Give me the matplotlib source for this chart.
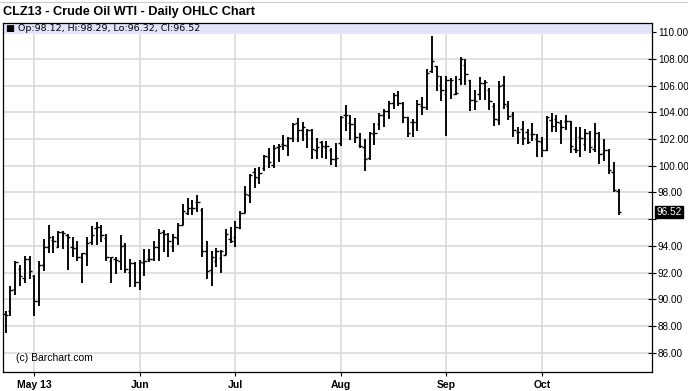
import numpy as np
import pandas as pd
import matplotlib
matplotlib.use('Agg')
import matplotlib.pyplot as plt
from matplotlib.patches import Rectangle
from matplotlib.lines import Line2D

# trading days (NYMEX, US holidays excluded)
dates = pd.bdate_range('2013-04-23', '2013-10-23', freq='C',
                       holidays=['2013-05-27', '2013-07-04', '2013-09-02'])

opens = [88.9, 89.1, 90.8, 92.3, 91.6, 93.05, 91.75, 89.85, 92.55, 93.9,
         94.45, 93.9, 95.05, 94.8, 93.9, 93.85, 93.2, 93.4, 94.3, 95.35,
         95.4, 94.6, 92.9, 93.0, 92.9, 94.1, 92.05, 92.7, 91.3, 92.7,
         93.05, 93.0, 93.9, 95.05, 94.9, 94.0, 94.6, 95.6, 96.47, 96.8,
         97.3, 96.7, 93.6, 92.17, 92.9, 93.1, 93.35, 94.55, 94.7, 95.35,
         96.5, 97.8, 99.55, 99.05, 99.8, 100.67, 100.05, 101.4, 101.6, 101.47,
         102.05, 103.17, 102.7, 102.4, 102.67, 101.2, 101.8, 101.4, 101.17, 100.5,
         101.72, 103.8, 103.2, 103.1, 101.55, 101.37, 100.55, 102.37, 103.12, 103.8,
         104.12, 104.67, 105.3, 104.72, 103.62, 103.3, 103.3, 104.45, 104.4, 107.07,
         107.45, 106.07, 105.4, 106.4, 105.4, 106.5, 107.57, 106.4, 104.9, 105.4,
         106.2, 105.65, 104.5, 103.4, 106.07, 104.5, 103.9, 102.55, 102.75, 102.55,
         102.37, 101.97, 101.8, 101.2, 103.42, 103.5, 103.17, 103.37, 103.37, 101.22,
         102.12, 101.62, 102.42, 101.22, 102.42, 100.92, 101.17, 99.55, 98.12]
highs = [89.1, 91.0, 92.85, 92.55, 93.25, 93.25, 91.8, 92.85, 94.55, 95.55,
         94.75, 95.1, 95.1, 94.9, 94.65, 94.4, 93.5, 94.7, 95.5, 95.8,
         95.6, 94.9, 93.2, 93.15, 94.8, 94.2, 93.05, 92.8, 92.98, 93.73,
         93.8, 94.35, 95.3, 95.2, 94.98, 94.88, 95.73, 97.1, 97.55, 97.4,
         97.8, 96.8, 94.35, 93.6, 93.85, 93.67, 95.25, 95.4, 95.85, 96.6,
         98.47, 99.4, 99.85, 99.9, 100.8, 101.3, 101.55, 101.6, 102.3, 102.17,
         103.17, 103.6, 103.3, 102.75, 102.75, 102.05, 101.87, 101.87, 101.3, 101.72,
         103.72, 104.55, 103.8, 103.55, 102.47, 101.97, 102.55, 103.17, 103.92, 104.22,
         104.87, 105.42, 105.62, 104.8, 103.67, 103.47, 104.95, 105.12, 107.25, 109.75,
         107.5, 106.7, 106.75, 106.57, 106.7, 108.15, 108.0, 106.45, 105.65, 106.65,
         106.4, 105.82, 104.7, 106.32, 106.75, 104.85, 104.0, 102.92, 103.35, 102.72,
         103.2, 102.37, 102.15, 103.75, 103.92, 103.8, 103.42, 103.8, 103.37, 102.92,
         102.92, 102.72, 102.62, 103.17, 102.55, 101.97, 101.22, 100.3, 98.29]
lows = [87.5, 88.75, 90.3, 91.0, 91.2, 91.5, 88.78, 89.5, 92.15, 93.5,
        93.5, 93.85, 93.8, 92.2, 93.2, 92.9, 91.25, 92.5, 94.05, 94.1,
        94.3, 92.9, 91.2, 91.9, 92.2, 92.0, 90.9, 90.9, 90.73, 91.73,
        92.8, 92.88, 92.9, 93.55, 93.2, 93.55, 94.05, 95.55, 96.3, 96.3,
        96.55, 93.2, 91.5, 91.0, 92.4, 92.0, 93.35, 94.2, 93.9, 95.25,
        96.5, 97.2, 98.35, 98.67, 99.6, 99.8, 99.85, 100.3, 101.17, 100.75,
        101.8, 101.8, 101.85, 101.35, 100.47, 100.48, 100.55, 100.48, 100.05, 99.93,
        101.5, 102.6, 101.95, 101.68, 101.3, 99.63, 100.43, 101.55, 102.67, 102.9,
        103.47, 104.22, 104.47, 103.22, 102.17, 102.17, 102.63, 103.82, 104.2, 106.95,
        105.62, 104.82, 102.2, 105.02, 105.32, 106.07, 106.07, 104.07, 104.15, 104.95,
        104.95, 104.2, 103.0, 103.07, 104.23, 103.4, 102.18, 101.6, 101.58, 101.64,
        101.84, 100.62, 100.67, 101.08, 102.55, 102.55, 101.62, 102.67, 100.97, 100.92,
        100.62, 101.12, 100.97, 101.05, 100.17, 100.37, 99.42, 98.05, 96.32]
closes = [88.8, 90.7, 92.78, 91.75, 93.0, 92.1, 89.86, 92.58, 93.9, 94.63,
          94.4, 95.05, 95.0, 94.7, 93.85, 93.2, 93.45, 94.25, 94.85, 95.4,
          94.8, 93.2, 93.15, 92.95, 94.0, 92.3, 92.7, 91.3, 92.8, 92.9,
          93.05, 93.9, 95.0, 94.9, 94.4, 94.7, 95.6, 96.6, 96.8, 96.8,
          97.3, 93.6, 92.1, 93.2, 93.6, 93.6, 94.9, 94.4, 95.4, 96.5,
          97.9, 99.3, 99.17, 99.43, 100.7, 100.3, 101.35, 101.5, 101.55, 102.1,
          103.1, 102.67, 102.9, 102.67, 101.22, 101.4, 101.47, 101.45, 100.48, 100.55,
          103.67, 103.8, 103.1, 102.18, 101.47, 100.48, 102.42, 102.42, 103.8, 104.12,
          104.72, 105.3, 104.72, 103.62, 102.47, 103.3, 104.6, 104.4, 106.95, 107.82,
          106.7, 105.7, 106.4, 106.45, 105.45, 108.0, 106.9, 104.95, 104.82, 106.2,
          106.3, 104.82, 103.5, 105.95, 104.6, 103.73, 102.7, 102.55, 102.08, 101.76,
          102.37, 101.85, 101.2, 103.67, 102.95, 103.27, 102.92, 103.37, 101.47, 101.17,
          102.05, 102.42, 101.42, 102.42, 100.87, 101.17, 99.67, 98.17, 96.52]

month_labels = ['May 13', 'Jun', 'Jul', 'Aug', 'Sep', 'Oct']
y_ticks = [86, 88, 90, 92, 94, 96, 98, 100, 102, 104, 106, 108, 110]

W, H = 688, 391
fig = plt.figure(figsize=(W / 100, H / 100), dpi=100)
fig.patch.set_facecolor('white')

left_px, right_px, top_px, bot_px = 3.3, 651.7, 22.5, 372.0
ax = fig.add_axes([left_px / W, 1 - bot_px / H, (right_px - left_px) / W, (bot_px - top_px) / H])

x = np.arange(len(dates))
ax.set_xlim(-0.47, 134.9)
ax.set_ylim(84.555, 110.73)

# gridlines
grid_c = '#d9d9d9'
for yv in y_ticks:
    ax.axhline(yv, color=grid_c, lw=1.1, zorder=1)
month_pos = []
ser = pd.Series(x, index=dates)
for m in [5, 6, 7, 8, 9, 10]:
    month_pos.append(int(ser[ser.index.month == m].iloc[0]))
for xv in month_pos:
    ax.axvline(xv, color=grid_c, lw=1.1, zorder=1)

# header band
ax.add_patch(Rectangle((0, 0.966), 1, 0.034, transform=ax.transAxes,
                       facecolor='#e3e3fa', edgecolor='none', zorder=2))

# OHLC bars
ax.vlines(x, lows, highs, color='black', lw=1.35, zorder=3)
ax.hlines(opens, x - 0.5, x, color='black', lw=1.0, zorder=3)
ax.hlines(closes, x, x + 0.5, color='black', lw=1.0, zorder=3)

for s in ax.spines.values():
    s.set_color('black')
    s.set_linewidth(0.9)

last = closes[-1]
ax.yaxis.tick_right()
ax.set_yticks(y_ticks)
ax.set_yticklabels(['' if abs(v - last) < 1.0 else f'{v:.2f}' for v in y_ticks],
                   family='Liberation Sans', fontsize=7.2)
ax.tick_params(axis='y', direction='inout', length=6, width=0.8, pad=1.5, colors='black')

ax.set_xticks(month_pos)
ax.set_xticklabels(month_labels, family='Liberation Sans', fontsize=7.5, fontweight='bold')
ax.tick_params(axis='x', direction='out', length=3, width=0.8, pad=2.5)

# last price label
ax.annotate(f'{last:.2f}', xy=(1.0, last), xycoords=('axes fraction', 'data'),
            xytext=(3.2, 0), textcoords='offset points', ha='left', va='center',
            fontsize=7.2, family='Liberation Sans', color='white',
            bbox=dict(boxstyle='square,pad=0.12', facecolor='black', edgecolor='black'),
            zorder=5, annotation_clip=False)

# header text
ax.text(0.004, 0.983, '\u25a0 Op:98.12, Hi:98.29, Lo:96.32, Cl:96.52', transform=ax.transAxes,
        ha='left', va='center', fontsize=6.8, family='DejaVu Sans', zorder=4)
ax.text(0.019, 0.04, '(c) Barchart.com', transform=ax.transAxes, ha='left', va='center',
        fontsize=7.5, family='Liberation Sans', zorder=4)

fig.text(3 / W, 1 - 12 / H, 'CLZ13 - Crude Oil WTI - Daily OHLC Chart', ha='left', va='center',
         fontsize=9.2, fontweight='bold', family='Liberation Sans')
fig.add_artist(Line2D([0, 1], [1 - 1.5 / H, 1 - 1.5 / H], transform=fig.transFigure,
                      color='#cccccc', lw=0.8))

fig.savefig('out.png', dpi=100, facecolor='white')
